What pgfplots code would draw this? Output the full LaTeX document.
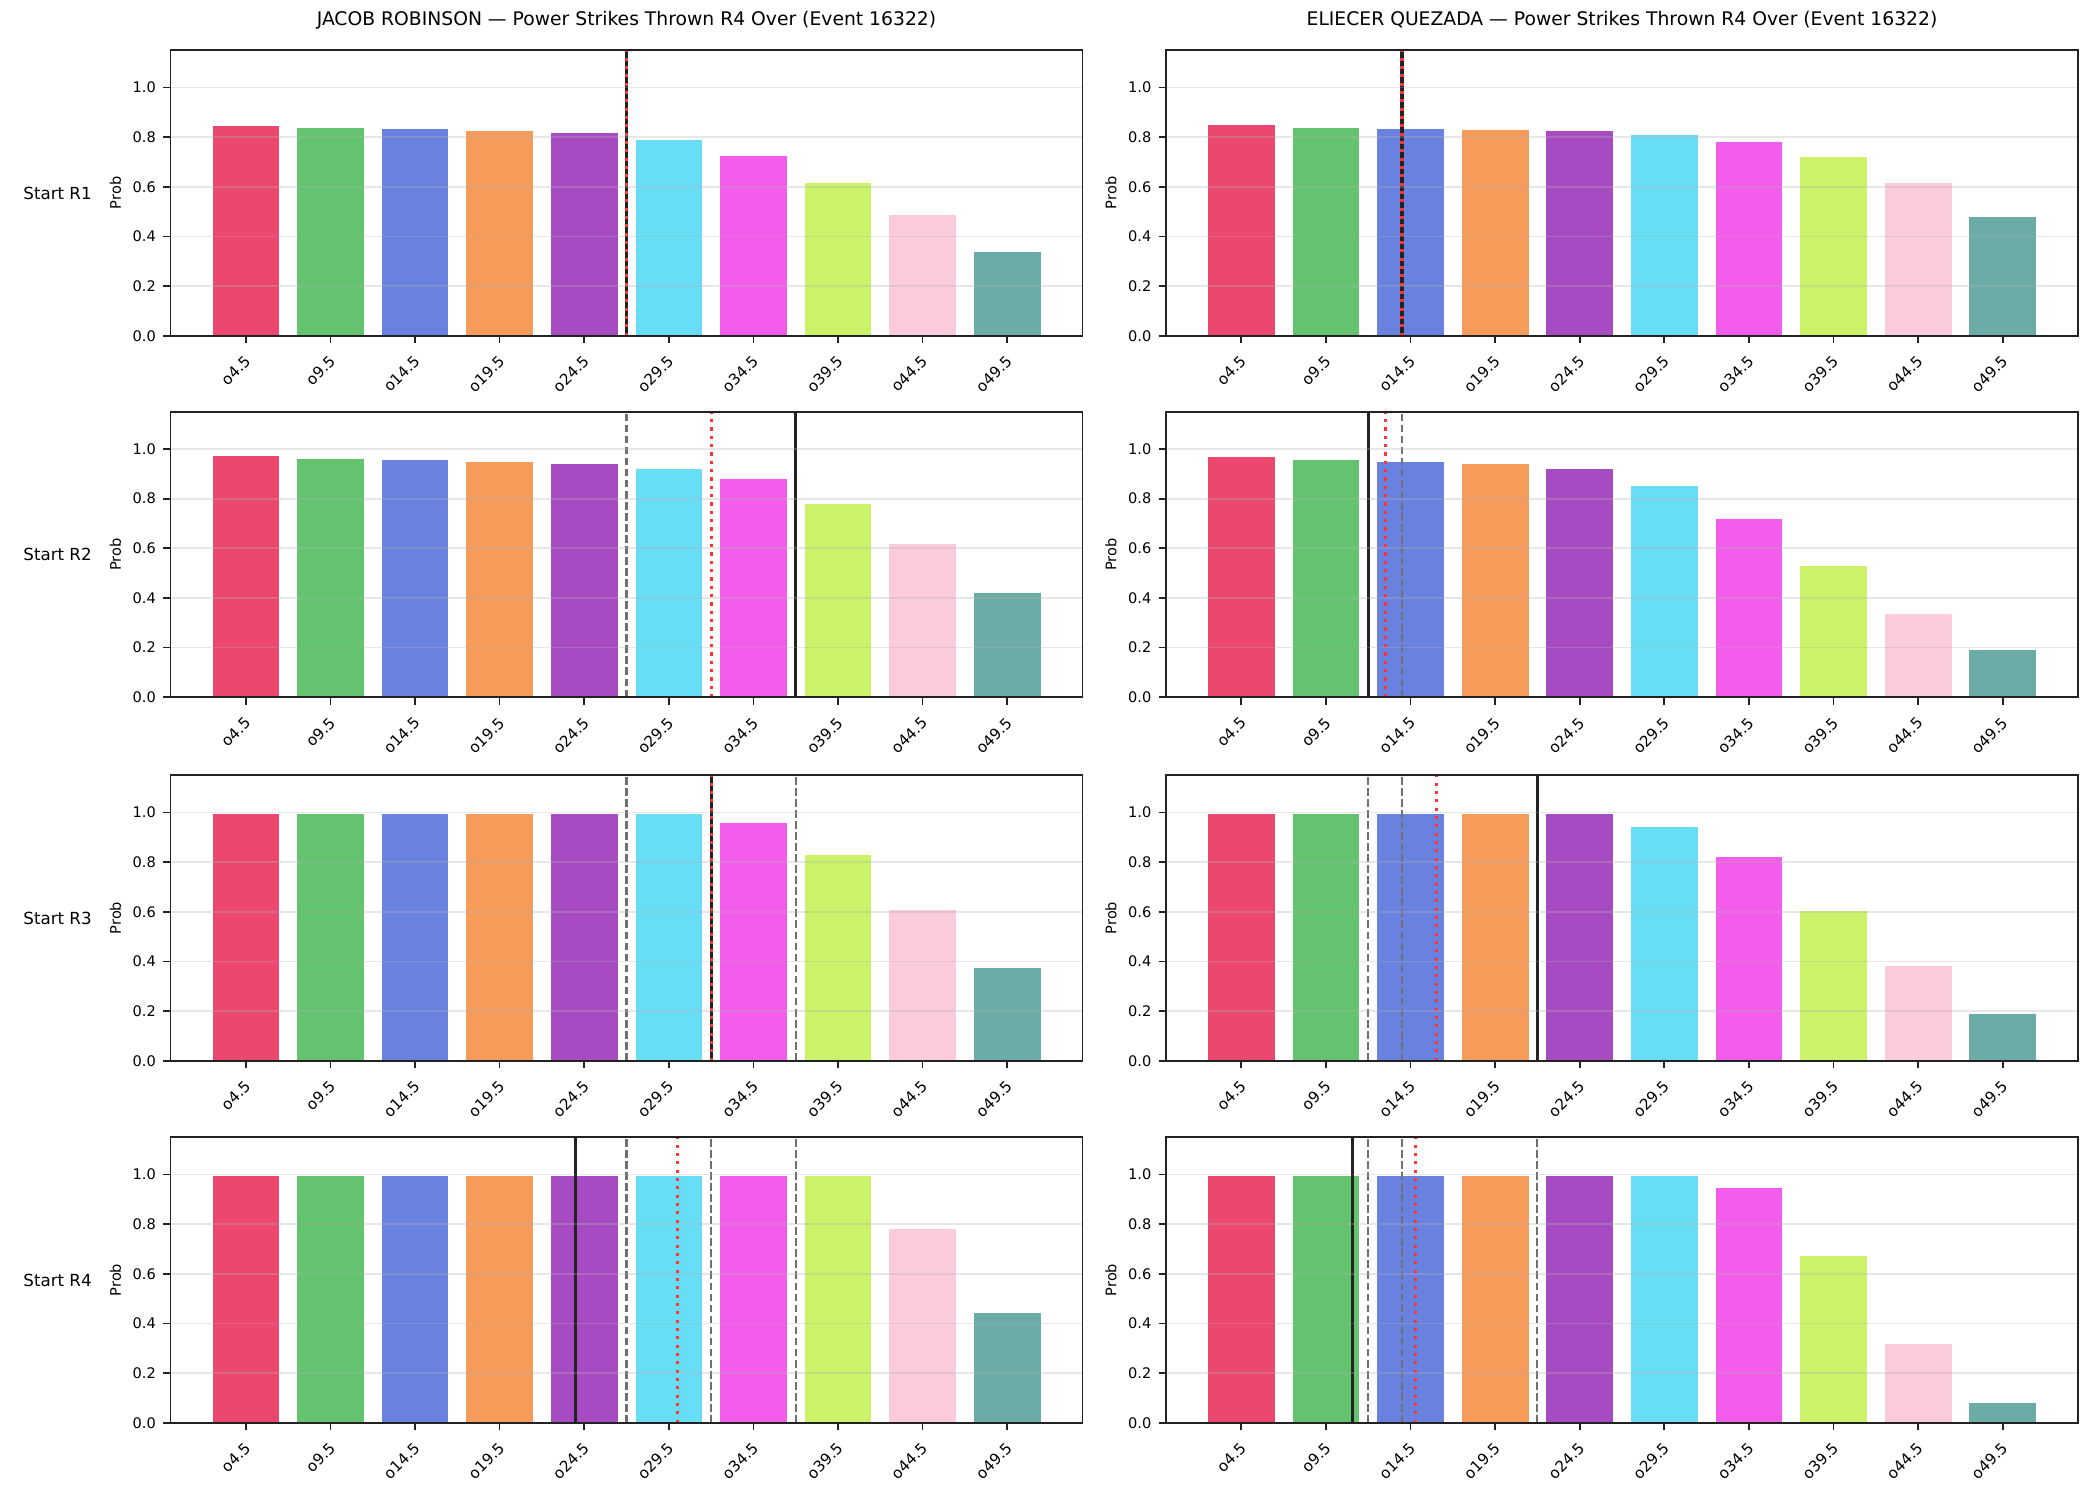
\documentclass[border=0pt]{standalone}
\usepackage{fontspec}
\setmainfont{DejaVu Sans}
\usepackage{pgfplots}
\usepackage{pgfplotstable}
\pgfplotsset{compat=1.18}

% bar palette (one colour per line)
\definecolor{bar0}{HTML}{E6194B}
\definecolor{bar1}{HTML}{3CB44B}
\definecolor{bar2}{HTML}{4363D8}
\definecolor{bar3}{HTML}{F58231}
\definecolor{bar4}{HTML}{911EB4}
\definecolor{bar5}{HTML}{42D4F4}
\definecolor{bar6}{HTML}{F032E6}
\definecolor{bar7}{HTML}{BFEF45}
\definecolor{bar8}{HTML}{FABED4}
\definecolor{bar9}{HTML}{469990}
\definecolor{spine}{HTML}{222222}
\definecolor{gridgray}{HTML}{B0B0B0}
\definecolor{refgray}{HTML}{707070}
\definecolor{refred}{HTML}{FF3333}

% P(over) for each line, by starting round
\pgfplotstableread{
idx R1    R2    R3    R4
0   0.848 0.973 0.997 0.997
1   0.840 0.962 0.997 0.997
2   0.836 0.957 0.997 0.997
3   0.828 0.949 0.997 0.997
4   0.820 0.941 0.997 0.997
5   0.792 0.920 0.997 0.997
6   0.728 0.880 0.961 0.997
7   0.619 0.779 0.832 0.997
8   0.490 0.621 0.609 0.783
9   0.341 0.422 0.377 0.443
}\robinson

\pgfplotstableread{
idx R1    R2    R3    R4
0   0.852 0.969 0.997 0.997
1   0.840 0.957 0.997 0.997
2   0.836 0.950 0.997 0.997
3   0.832 0.941 0.997 0.997
4   0.828 0.920 0.997 0.997
5   0.812 0.852 0.944 0.997
6   0.784 0.722 0.824 0.949
7   0.723 0.532 0.607 0.674
8   0.619 0.337 0.385 0.318
9   0.482 0.192 0.192 0.080
}\quezada

\pgfplotsset{
  panel/.style={
    anchor=south west, scale only axis,
    width=437.76pt, height=137.04pt,
    xmin=-0.89, xmax=9.89, ymin=0, ymax=1.15,
    xtick={0,...,9},
    xticklabels={o4.5,o9.5,o14.5,o19.5,o24.5,o29.5,o34.5,o39.5,o44.5,o49.5},
    ytick={0,0.2,0.4,0.6,0.8,1.0},
    ymajorgrids, axis on top=true,
    grid style={line width=0.8pt, draw=gridgray, opacity=0.3},
    axis line style={line width=0.8pt, draw=spine},
    tick align=outside, tick pos=left,
    major tick length=3.5pt,
    every tick/.style={draw=spine, line width=0.8pt},
    yticklabel style={font=\fontsize{7}{8}\selectfont,
      /pgf/number format/.cd, fixed, fixed zerofill, precision=1, assume math mode=true},
    xticklabel style={font=\fontsize{7.3}{8}\selectfont, rotate=45, anchor=north east,
      inner sep=1pt, xshift=-3.5pt, yshift=-2pt},
    ylabel={Prob},
    ylabel style={at={([xshift=-26.4pt]axis description cs:0,0.5)}, anchor=center, font=\fontsize{7}{8}\selectfont},
    title style={at={(axis description cs:0.5,1)}, anchor=base, yshift=6pt, font=\fontsize{9}{11}\selectfont},
  },
  vsolid/.style={draw=spine, line width=1.5pt, forget plot},
  vdash/.style={draw=refgray, line width=1pt, dash pattern=on 3.7pt off 1.6pt, forget plot},
  vdot/.style={draw=refred, line width=1.5pt, dash pattern=on 1.5pt off 2.5pt, forget plot},
}

% ten coloured bars from one column of a table
\newcommand{\bars}[2]{%
  \pgfplotsinvokeforeach{0,...,9}{%
    \addplot[ybar, bar width=0.8, bar shift=0pt, fill=bar##1, fill opacity=0.8,
      draw=white, line width=0.4pt, restrict x to domain=##1:##1]
      table[x=idx, y=#2] {#1};
  }%
}

\newcommand{\titleR}{JACOB ROBINSON — Power Strikes Thrown R4 Over (Event 16322)}
\newcommand{\titleQ}{ELIECER QUEZADA — Power Strikes Thrown R4 Over (Event 16322)}

\begin{document}
\begin{tikzpicture}
\path[use as bounding box] (0,0) rectangle (1008pt,720pt);

% ---- Start R1 ----
\begin{axis}[panel, at={(81.84pt,558.86pt)}, title={\titleR}]
  \bars{\robinson}{R1}
  \addplot[vsolid] coordinates {(4.5,0) (4.5,1.15)};
  \addplot[vdot] coordinates {(4.5,0) (4.5,1.15)};
\end{axis}
\begin{axis}[panel, at={(559.68pt,558.86pt)}, title={\titleQ}]
  \bars{\quezada}{R1}
  \addplot[vsolid] coordinates {(1.9,0) (1.9,1.15)};
  \addplot[vdot] coordinates {(1.9,0) (1.9,1.15)};
\end{axis}

% ---- Start R2 ----
\begin{axis}[panel, at={(81.84pt,385.30pt)}]
  \bars{\robinson}{R2}
  \addplot[vdash] coordinates {(4.5,0) (4.5,1.15)};
  \addplot[vsolid] coordinates {(6.5,0) (6.5,1.15)};
  \addplot[vdot] coordinates {(5.5,0) (5.5,1.15)};
\end{axis}
\begin{axis}[panel, at={(559.68pt,385.30pt)}]
  \bars{\quezada}{R2}
  \addplot[vdash] coordinates {(1.9,0) (1.9,1.15)};
  \addplot[vsolid] coordinates {(1.5,0) (1.5,1.15)};
  \addplot[vdot] coordinates {(1.7,0) (1.7,1.15)};
\end{axis}

% ---- Start R3 ----
\begin{axis}[panel, at={(81.84pt,210.86pt)}]
  \bars{\robinson}{R3}
  \addplot[vdash] coordinates {(4.5,0) (4.5,1.15)};
  \addplot[vdash] coordinates {(6.5,0) (6.5,1.15)};
  \addplot[vsolid] coordinates {(5.5,0) (5.5,1.15)};
  \addplot[vdot] coordinates {(5.5,0) (5.5,1.15)};
\end{axis}
\begin{axis}[panel, at={(559.68pt,210.86pt)}]
  \bars{\quezada}{R3}
  \addplot[vdash] coordinates {(1.5,0) (1.5,1.15)};
  \addplot[vdash] coordinates {(1.9,0) (1.9,1.15)};
  \addplot[vsolid] coordinates {(3.5,0) (3.5,1.15)};
  \addplot[vdot] coordinates {(2.31,0) (2.31,1.15)};
\end{axis}

% ---- Start R4 ----
\begin{axis}[panel, at={(81.84pt,37.10pt)}]
  \bars{\robinson}{R4}
  \addplot[vdash] coordinates {(4.5,0) (4.5,1.15)};
  \addplot[vdash] coordinates {(5.5,0) (5.5,1.15)};
  \addplot[vdash] coordinates {(6.5,0) (6.5,1.15)};
  \addplot[vsolid] coordinates {(3.9,0) (3.9,1.15)};
  \addplot[vdot] coordinates {(5.1,0) (5.1,1.15)};
\end{axis}
\begin{axis}[panel, at={(559.68pt,37.10pt)}]
  \bars{\quezada}{R4}
  \addplot[vdash] coordinates {(1.5,0) (1.5,1.15)};
  \addplot[vdash] coordinates {(1.9,0) (1.9,1.15)};
  \addplot[vdash] coordinates {(3.5,0) (3.5,1.15)};
  \addplot[vsolid] coordinates {(1.31,0) (1.31,1.15)};
  \addplot[vdot] coordinates {(2.06,0) (2.06,1.15)};
\end{axis}

% row captions
\begin{scope}[every node/.style={anchor=west, inner sep=0pt, font=\fontsize{8}{10}\selectfont}]
  \node at (11.04pt,627.38pt) {Start R1};
  \node at (11.04pt,453.82pt) {Start R2};
  \node at (11.04pt,279.38pt) {Start R3};
  \node at (11.04pt,105.62pt) {Start R4};
\end{scope}
\end{tikzpicture}
\end{document}
